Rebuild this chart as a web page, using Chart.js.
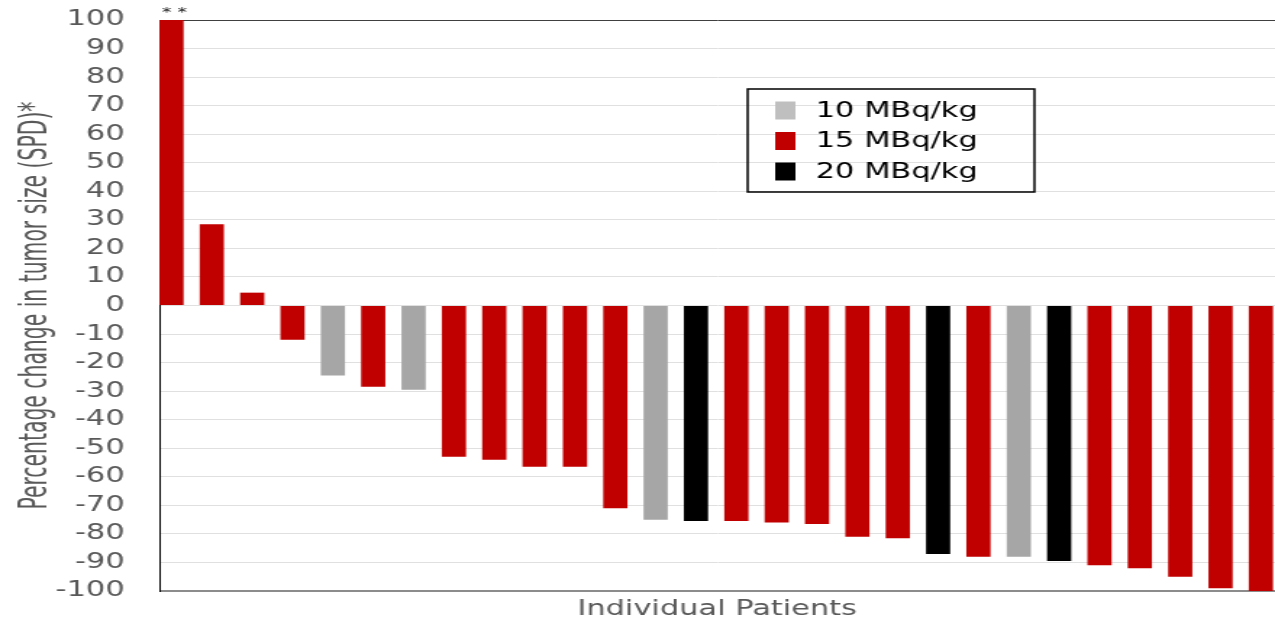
<!DOCTYPE html>
<html>
<head>
<meta charset="utf-8">
<title>Waterfall plot</title>
<script src="https://cdn.jsdelivr.net/npm/chart.js@4/dist/chart.umd.min.js"></script>
<style>
  html, body { margin: 0; padding: 0; background: #fff; overflow: hidden; }
  /* the source picture is stretched sideways, so draw it narrow and stretch the box */
  #wrap { position: relative; width: 880px; height: 623px; transform: scaleX(1.44886); transform-origin: 0 0; }
  #waterfall { display: block; }
</style>
</head>
<body>
<div id="wrap"><canvas id="waterfall" width="880" height="623"></canvas></div>
<script>
/* Data */
let patients = [1, 2, 3, 4, 5, 6, 7, 8, 9, 10, 11, 12, 13, 14, 15, 16, 17, 18, 19, 20, 21, 22, 23, 24, 25, 26, 27, 28]
let changes = [100, 28.5, 4.5, -12, -24.5, -28.5, -29.5, -53, -54, -56.5, -56.5, -71, -75, -75.5, -75.5, -76, -76.5, -81, -81.5, -87, -88, -88, -89.5, -91, -92, -95, -99, -100]
let doses = [15, 15, 15, 15, 10, 15, 10, 15, 15, 15, 15, 15, 10, 20, 15, 15, 15, 15, 15, 20, 15, 10, 20, 15, 15, 15, 15, 15]

let doseKeys = [10, 15, 20]
let doseLabels = ['10 MBq/kg', '15 MBq/kg', '20 MBq/kg']
let barColors = { 10: '#a6a6a6', 15: '#c00000', 20: '#000000' }
let legendColors = { 10: '#bfbfbf', 15: '#c00000', 20: '#000000' }

let yTitle = 'Percentage change in tumor size (SPD)*'
let textGray = '#595959'

// y title (squeezed to the narrow look of the original), legend box, and the ** over the first bar
let extrasPlugin = {
    id: 'extras',
    afterDraw(chart) {
        let ctx = chart.ctx
        let x = chart.scales.x
        let y = chart.scales.y
        let area = chart.chartArea

        ctx.save()
        ctx.translate(25, (area.top + area.bottom) / 2)
        ctx.rotate(-Math.PI / 2)
        ctx.fillStyle = textGray
        ctx.font = '26px "Liberation Sans Narrow", "DejaVu Sans Condensed", "Arial Narrow", sans-serif'
        ctx.textAlign = 'center'
        ctx.textBaseline = 'middle'
        ctx.fillText(yTitle, 0, 0, 408)
        ctx.restore()

        ctx.save()
        ctx.fillStyle = '#222'
        ctx.font = '13px "DejaVu Sans"'
        ctx.textAlign = 'center'
        ctx.textBaseline = 'middle'
        ctx.fillText('* *', x.getPixelForValue(patients[0]) + 2, y.getPixelForValue(100) - 7)

        // legend
        let left = 516, top = 89, right = 714, bottom = 192
        ctx.strokeStyle = '#000'
        ctx.lineWidth = 1.5
        ctx.strokeRect(left, top, right - left, bottom - top)

        ctx.font = '21px "DejaVu Sans"'
        ctx.textAlign = 'left'
        doseKeys.forEach(function(key, i) {
            let rowY = 110.5 + i * 30.5
            ctx.fillStyle = legendColors[key]
            ctx.fillRect(535, rowY - 9, 14, 18)
            ctx.fillStyle = '#000'
            ctx.fillText(doseLabels[i], 563, rowY + 1)
        })
        ctx.restore()
    }
}

let chartCanvas = document.querySelector('#waterfall')

let waterfallChart = new Chart(chartCanvas.getContext('2d'), {
    type: 'bar',
    data: {
        datasets: [
            {
                data: patients.map(function(p, i) { return { x: p, y: changes[i] } }),
                backgroundColor: doses.map(function(d) { return barColors[d] }),
                borderWidth: 0,
                barPercentage: 1,
                categoryPercentage: 0.6
            }
        ]
    },
    options: {
        responsive: false,
        devicePixelRatio: 1,
        animation: false,
        layout: { padding: { top: 20, right: 0, bottom: 0, left: 0 } },
        plugins: {
            legend: { display: false },
            tooltip: { enabled: false }
        },
        scales: {
            x: {
                type: 'linear',
                min: 0.7,
                max: 28.35,
                offset: false,
                ticks: { display: false },
                grid: { display: false },
                border: { display: false },
                title: {
                    display: true,
                    text: 'Individual Patients',
                    color: textGray,
                    font: { family: 'DejaVu Sans', size: 21 },
                    padding: { top: 0, bottom: 1 }
                },
                afterFit: function(scale) { scale.height = 32 }
            },
            y: {
                min: -100,
                max: 100,
                ticks: {
                    stepSize: 10,
                    padding: 24,
                    color: textGray,
                    font: { family: 'DejaVu Sans', size: 21 }
                },
                grid: {
                    drawTicks: false,
                    color: function(c) {
                        if (c.tick && c.tick.value == 100) return '#404040'
                        if (c.tick && c.tick.value == -100) return '#8c8c8c'
                        return '#e0e0e0'
                    },
                    lineWidth: function(c) {
                        return (c.tick && c.tick.value == -100) ? 2 : 1
                    }
                },
                border: { display: true, color: '#000', width: 1 },
                afterFit: function(scale) {
                    scale.width = 110
                    scale.paddingTop = 0
                    scale.paddingBottom = 0
                }
            }
        }
    },
    plugins: [extrasPlugin]
})
</script>
</body>
</html>
